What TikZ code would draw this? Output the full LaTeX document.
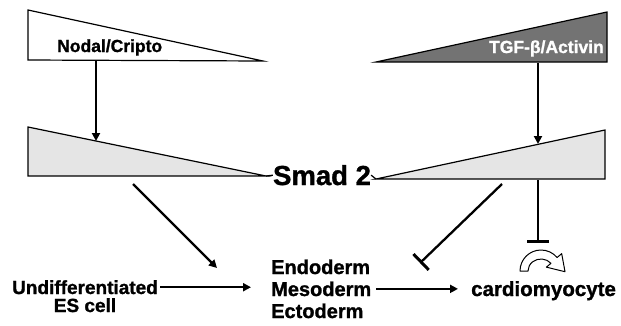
\documentclass[tikz,border=0pt]{standalone}
\usepackage{fontspec}
\setmainfont{Liberation Sans}[BoldFeatures={FakeBold=1.2}]
\usetikzlibrary{arrows.meta,calc}
\begin{document}
\begin{tikzpicture}[x=1pt,y=1pt,
  tri/.style={draw=black,line width=1.2pt,line join=miter},
  lbl/.style={font=\bfseries\fontsize{20}{22}\selectfont, inner sep=0pt},
  small/.style={font=\bfseries\fontsize{17.5}{19}\selectfont, inner sep=0pt},
  conn/.style={line width=2.3pt,-{Triangle[length=8pt,width=8pt]}},
  inh/.style={line width=2.3pt,-{Bar[width=22pt,line width=3pt]}}]
\useasboundingbox (0,0) rectangle (621,-325);

% gradient triangles
\draw[tri, fill=white] (28,-10) -- (28,-60) -- (263,-61) -- cycle;
\draw[tri, fill=black!55] (376,-62) -- (607,-12) -- (607,-62) -- cycle;
\draw[tri, fill=black!10] (28,-127) -- (28,-176) -- (266,-176) -- cycle;
\draw[tri, fill=black!10] (376,-179) -- (605,-130) -- (605,-179) -- cycle;

% labels
\node[small, anchor=base west] (nodal) at (57,-52) {Nodal/Cripto};
\node[small, anchor=base east, text=white] (tgf) at (604,-53) {TGF-β/Activin};
\node[font=\bfseries\fontsize{27.5}{30}\selectfont, inner sep=0pt, anchor=base] (smad) at (322,-185) {Smad 2};
\node[lbl, font=\bfseries\fontsize{19}{21}\selectfont, anchor=base] (undiff) at (85,-294) {Undifferentiated};
\node[lbl, font=\bfseries\fontsize{19}{21}\selectfont, anchor=base] (es) at (85,-312) {ES cell};
\node[lbl, anchor=base west] (endo) at (271,-274) {Endoderm};
\node[lbl, anchor=base west] (meso) at (271,-296) {Mesoderm};
\node[lbl, anchor=base west] (ecto) at (271,-318) {Ectoderm};
\node[lbl, font=\bfseries\fontsize{20.5}{22}\selectfont, anchor=base west] (cardio) at (471,-296) {cardiomyocyte};

% coordinates on the triangles
\coordinate (nodalB) at (96,-61);
\coordinate (smadLtop) at (96,-141);
\coordinate (tgfB) at (538,-63);
\coordinate (smadRtop) at (538,-144);
\coordinate (smadLtip) at (266,-176);
\coordinate (smadRtip) at (376,-179);
\coordinate (smadLbot) at (133,-184);
\coordinate (mesoIn) at (217,-268);
\coordinate (smadRbot) at (502,-184);
\coordinate (inhEnd) at (420,-263);
\coordinate (smadRbot2) at (538,-180);
\coordinate (archBar) at (538,-243);
\coordinate (C) at (541,-271);

% connectors
\draw[conn] (nodalB) -- (smadLtop);
\draw[conn] (tgfB) -- (smadRtop);
\draw[line width=1.2pt] (smadLtip) -- (smad.west);
\draw[line width=1.2pt] (smad.east) -- (smadRtip);
\draw[conn] (smadLbot) -- (mesoIn);
\draw[inh] (smadRbot) -- (inhEnd);
\draw[inh] (smadRbot2) -- (archBar);
\draw[conn, shorten <=2pt, shorten >=20pt] (undiff.east) -- (undiff.east -| meso.west);
\draw[conn, shorten <=5pt, shorten >=13pt] (meso.east) -- (meso.east -| cardio.west);

% curved hollow arrow
\draw[line width=1pt, fill=white, line join=round]
  ($(C)+(180:21 and 21)$) arc[start angle=180, end angle=40, x radius=21, y radius=21]
  -- ($(C)+(40:27 and 27)$) -- ($(C)+(40:17 and 16)+(11,-11)$)
  -- ($(C)+(40:7 and 6)$) -- ($(C)+(40:13 and 12)$)
  arc[start angle=40, end angle=180, x radius=13, y radius=12] -- cycle;
\end{tikzpicture}
\end{document}
